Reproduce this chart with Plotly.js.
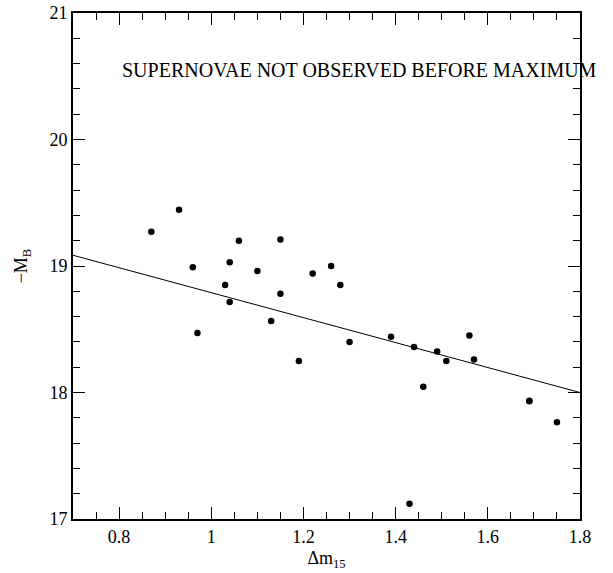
<!DOCTYPE html>
<html>
<head>
<meta charset="utf-8">
<script src="https://cdn.plot.ly/plotly-3.0.1.min.js"></script>
<style>html,body{margin:0;padding:0;background:#fff;}#chart{width:613px;height:573px;}</style>
</head>
<body>
<div id="chart"></div>
<script>
// Δm15 values of supernovae
const dm15 = [0.87, 0.93, 0.96, 0.97, 1.03, 1.04, 1.04, 1.06, 1.10, 1.13, 1.15, 1.15, 1.19, 1.22, 1.26, 1.28, 1.30,
              1.39, 1.43, 1.44, 1.46, 1.49, 1.51, 1.56, 1.57, 1.69, 1.69, 1.75];
// -M_B values
const negMB = [19.27, 19.445, 18.99, 18.47, 18.85, 19.03, 18.715, 19.20, 18.96, 18.565, 19.21, 18.78, 18.25, 18.94, 19.00, 18.85, 18.40,
               18.44, 17.12, 18.36, 18.045, 18.325, 18.25, 18.45, 18.26, 17.935, 17.93, 17.765];
// fitted line endpoints
const fitX = [0.7, 1.8];
const fitY = [19.085, 18.0];
const note = "SUPERNOVAE NOT OBSERVED BEFORE MAXIMUM";

const serif = "Liberation Serif, DejaVu Serif, serif";
const axisCommon = {
  showgrid: false, zeroline: false, showline: true, linecolor: '#000', linewidth: 2,
  mirror: 'allticks', ticks: 'inside', ticklen: 12, tickwidth: 1, tickcolor: '#000',
  tickfont: {family: serif, size: 18, color: '#000'}
};
const layout = {
  width: 613, height: 573,
  margin: {l: 73, r: 33, t: 13, b: 54},
  paper_bgcolor: '#fff', plot_bgcolor: '#fff',
  showlegend: false,
  xaxis: Object.assign({}, axisCommon, {
    range: [0.7, 1.8], tick0: 0, dtick: 0.2,
    minor: {dtick: 0.05, ticks: 'inside', ticklen: 7, tickwidth: 1, tickcolor: '#000', showgrid: false},
    title: {text: 'Δm<sub>15</sub>', font: {family: serif, size: 18, color: '#000'}, standoff: 6}
  }),
  yaxis: Object.assign({}, axisCommon, {
    range: [17, 21], tick0: 0, dtick: 1,
    minor: {dtick: 0.2, ticks: 'inside', ticklen: 7, tickwidth: 1, tickcolor: '#000', showgrid: false},
    title: {text: '−M<sub>B</sub>', font: {family: serif, size: 18, color: '#000'}, standoff: 17}
  }),
  annotations: [{
    text: note, xref: 'x', yref: 'y', x: 0.803, y: 20.55, xanchor: 'left', yanchor: 'middle',
    showarrow: false, font: {family: serif, size: 20, color: '#000'}
  }]
};
const data = [
  {x: fitX, y: fitY, type: 'scatter', mode: 'lines', line: {color: '#000', width: 1}, cliponaxis: true},
  {x: dm15, y: negMB, type: 'scatter', mode: 'markers', marker: {color: '#000', size: 6.5}}
];
Plotly.newPlot('chart', data, layout, {displayModeBar: false, staticPlot: true});
</script>
</body>
</html>
